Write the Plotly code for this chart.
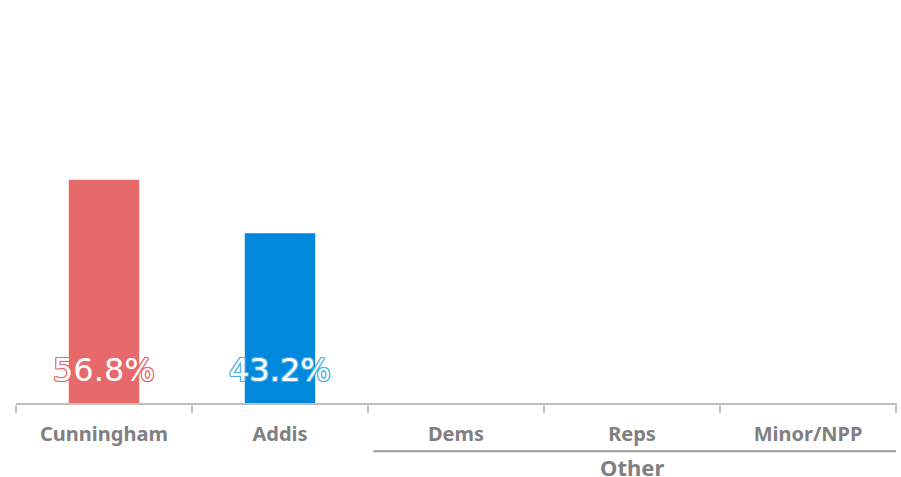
import plotly.graph_objects as go

categories = ["Cunningham", "Addis", "Dems", "Reps", "Minor/NPP"]
values = [56.8, 43.2, None, None, None]
bar_colors = ["#E8696A", "#0088DD", "#999999", "#999999", "#999999"]
label_outline = ["#E8696A", "#4AAEE0", "#999999", "#999999", "#999999"]
group_label = "Other"
group_members = ["Dems", "Reps", "Minor/NPP"]

fig = go.Figure()
fig.add_trace(go.Bar(
    x=categories, y=values,
    marker=dict(color=bar_colors, line=dict(width=0)),
    hoverinfo="skip",
))

def outline(c):
    s = []
    for dx in (-1, 0, 1):
        for dy in (-1, 0, 1):
            if dx or dy:
                s.append(f"{dx}px {dy}px 0 {c}")
    return ", ".join(s)

for cat, v, c in zip(categories, values, label_outline):
    if v is None:
        continue
    fig.add_annotation(
        x=cat, y=0, yref="y", xref="x", yanchor="bottom", yshift=12,
        text=f"{v:.1f}%", showarrow=False,
        font=dict(family="DejaVu Sans", size=32, color="white", shadow=outline(c)),
    )

g0 = categories.index(group_members[0])
g1 = categories.index(group_members[-1])
fig.add_shape(type="line", xref="x", yref="paper",
              x0=g0 - 0.47, x1=g1 + 0.5, y0=-0.123, y1=-0.123,
              line=dict(color="#999999", width=2))
fig.add_annotation(x=(g0 + g1) / 2, xref="x", y=-0.163, yref="paper", yanchor="middle",
                   text=f"<b>{group_label}</b>", showarrow=False,
                   font=dict(family="Noto Sans", size=22, color="#808080"))

fig.update_layout(
    width=901, height=477,
    margin=dict(l=16, r=4, t=10, b=74),
    paper_bgcolor="white", plot_bgcolor="white",
    bargap=0.6, showlegend=False,
    xaxis=dict(type="category", tickson="boundaries", ticks="outside", ticklen=8,
               tickcolor="#BFBFBF", tickwidth=2, showline=True, linecolor="#BFBFBF", linewidth=2,
               showgrid=False, tickfont=dict(family="Noto Sans", size=20, color="#808080", weight="bold"),
               ticklabelstandoff=12),
    yaxis=dict(range=[0, 100], visible=False, showgrid=False, zeroline=False),
)
fig.write_html("out.html", config={"displayModeBar": False},
               post_script="document.body.style.margin='0';")
